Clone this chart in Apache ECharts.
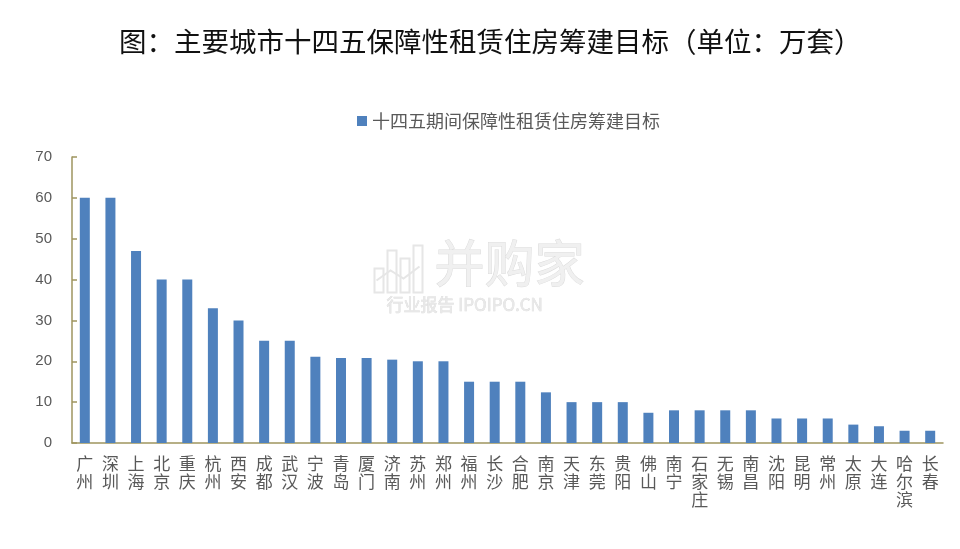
<!DOCTYPE html>
<html>
<head>
<meta charset="utf-8">
<script src="https://cdn.jsdelivr.net/npm/echarts@6/dist/echarts.min.js"></script>
<style>html,body{margin:0;padding:0;background:#fff}#c{width:960px;height:549px}</style>
</head>
<body>
<div id="c"></div>
<script>
var titleText = '图：主要城市十四五保障性租赁住房筹建目标（单位：万套）';
var seriesName = '十四五期间保障性租赁住房筹建目标';
var cities = ['广州','深圳','上海','北京','重庆','杭州','西安','成都','武汉','宁波','青岛','厦门','济南','苏州','郑州','福州','长沙','合肥','南京','天津','东莞','贵阳','佛山','南宁','石家庄','无锡','南昌','沈阳','昆明','常州','太原','大连','哈尔滨','长春'];
var targets = [60,60,47,40,40,33,30,25,25,21.1,20.8,20.8,20.4,20,20,15,15,15,12.4,10,10,10,7.4,8,8,8,8,6,6,6,4.5,4.1,3,3];
var yTicks = [0,10,20,30,40,50,60,70];

var chart = echarts.init(document.getElementById('c'), null, {renderer:'canvas'});
var axisColor = '#9E955F';
var cjk = '"Noto Sans CJK SC", sans-serif';
chart.setOption({
  animation: false,
  backgroundColor: '#fff',
  title: {
    text: titleText,
    left: 114,
    top: 23,
    textStyle: {fontFamily: cjk, fontSize: 27.5, fontWeight: 'normal', color: '#111'}
  },
  legend: {
    data: [seriesName],
    left: 352,
    top: 107,
    icon: 'rect',
    itemWidth: 10,
    itemHeight: 10,
    itemGap: 6,
    textStyle: {fontFamily: cjk, fontSize: 18, color: '#595959'}
  },
  grid: {left: 72, right: 17, top: 157, bottom: 106, containLabel: false},
  xAxis: {
    type: 'category',
    data: cities,
    boundaryGap: true,
    axisLine: {lineStyle: {color: axisColor, width: 1.5}},
    axisTick: {inside: true, length: 5, lineStyle: {color: axisColor, width: 1.5}},
    axisLabel: {
      interval: 0,
      margin: 12,
      fontFamily: cjk,
      fontSize: 17,
      lineHeight: 18,
      color: '#595959',
      formatter: function (v) { return v.split('').join('\n'); }
    }
  },
  yAxis: {
    type: 'value',
    min: yTicks[0],
    max: yTicks[yTicks.length - 1],
    interval: 10,
    splitLine: {show: false},
    axisLine: {show: true, lineStyle: {color: axisColor, width: 1.5}},
    axisTick: {show: true, inside: true, length: 5, lineStyle: {color: axisColor, width: 1.5}},
    axisLabel: {margin: 20, fontFamily: '"Liberation Sans", Arial, sans-serif', fontSize: 15, color: '#595959'}
  },
  series: [{
    name: seriesName,
    type: 'bar',
    data: targets,
    barWidth: 10,
    itemStyle: {color: '#4F81BD'}
  }],
  graphic: [
    {type: 'group', left: 372, top: 238, silent: true, z: 100, children: [
      {type: 'rect', shape: {x: 0, y: 28, width: 9, height: 24}, style: {fill: 'none', stroke: '#e6e6e6', lineWidth: 2}},
      {type: 'rect', shape: {x: 13, y: 10, width: 9, height: 42}, style: {fill: 'none', stroke: '#e6e6e6', lineWidth: 2}},
      {type: 'rect', shape: {x: 26, y: 18, width: 9, height: 34}, style: {fill: 'none', stroke: '#e6e6e6', lineWidth: 2}},
      {type: 'rect', shape: {x: 39, y: 5, width: 9, height: 47}, style: {fill: 'none', stroke: '#e6e6e6', lineWidth: 2}},
      {type: 'polyline', shape: {points: [[2,40],[16,30],[29,38],[45,26]]}, style: {fill: 'none', stroke: '#e6e6e6', lineWidth: 2}},
      {type: 'text', x: 60, y: -2, style: {text: '并购家', font: '50px "Noto Sans CJK SC", sans-serif', fill: '#f0f0f0', stroke: '#dcdcdc', lineWidth: 1}},
      {type: 'text', x: 12, y: 56, style: {text: '行业报告 IPOIPO.CN', font: '17px "Noto Sans CJK SC", sans-serif', fill: '#e8e8e8', stroke: '#dadada', lineWidth: 0.6}}
    ]}
  ]
});
</script>
</body>
</html>
